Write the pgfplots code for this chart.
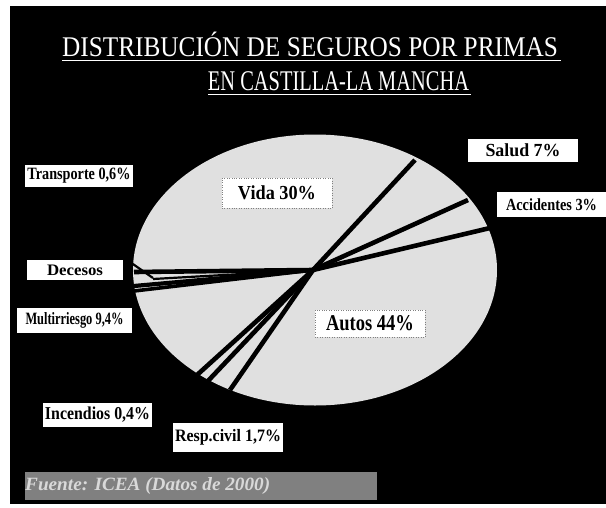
\documentclass[border=0pt]{standalone}
\usepackage{pgfplots}
\pgfplotsset{compat=1.18}
\usepackage{fontspec}
\setmainfont{Liberation Serif}
\usepackage{graphicx}
\definecolor{pie}{gray}{0.88}
\definecolor{fuente}{gray}{0.5}
% width, cap-height-based total height, text
\newcommand{\lab}[3]{\resizebox{#1pt}{#2pt}{\fontsize{20}{20}\selectfont\bfseries #3}}
\begin{document}
\begin{tikzpicture}
\begin{axis}[width=606pt,height=507pt,scale only axis,
  xmin=0,xmax=606,ymin=0,ymax=507,y dir=reverse,hide axis,clip=false]
\fill[white] (axis cs:0,0) rectangle (axis cs:606,507);
\fill[black] (axis cs:10,6) rectangle (axis cs:606,504);
% title
\node[white,anchor=base,inner sep=0pt] at (axis cs:310,56)
  {\scalebox{0.887}[1]{\fontsize{28.5}{28.5}\selectfont DISTRIBUCIÓN DE SEGUROS POR PRIMAS}};
\node[white,anchor=base,inner sep=0pt] at (axis cs:338.5,90)
  {\scalebox{0.717}[1]{\fontsize{28.5}{28.5}\selectfont EN CASTILLA-LA MANCHA}};
\draw[white,line width=1.3pt] (axis cs:62,60.5) -- (axis cs:561,60.5);
\draw[white,line width=1.3pt] (axis cs:208,94.5) -- (axis cs:471,94.5);
% pie body
\fill[pie] (axis cs:315,270) ellipse [x radius=182pt, y radius=135.5pt];
% slice boundaries (rays from centre)
\addplot[black,line width=4.6pt] coordinates {(313,270) (415,160)};
\addplot[black,line width=4.6pt] coordinates {(313,270) (468,200)};
\addplot[black,line width=4.6pt] coordinates {(313,270) (490,228)};
\addplot[black,line width=4.6pt] coordinates {(313,270) (197,375)};
\addplot[black,line width=4.6pt] coordinates {(313,270) (207,382)};
\addplot[black,line width=4.6pt] coordinates {(313,270) (230,390)};
\addplot[black,line width=4.6pt] coordinates {(313,270) (134,272)};
\addplot[black,line width=2.2pt] coordinates {(313,270) (153,279)};
\addplot[black,line width=4.2pt] coordinates {(313,270) (134,286)};
\addplot[black,line width=3.6pt] coordinates {(313,270) (134,291)};
\addplot[black,line width=2.2pt] coordinates {(130,262) (153,278)};
% labels
\node[fill=white,minimum width=110pt,minimum height=23pt,inner sep=0pt] at (axis cs:523,150.5)
  {\lab{75}{12.8}{Salud 7\%}};
\node[fill=white,minimum width=109pt,minimum height=25pt,inner sep=0pt] at (axis cs:551.5,204.5)
  {\lab{91}{11.8}{Accidentes 3\%}};
\node[fill=white,draw=gray,dotted,minimum width=110pt,minimum height=30pt,inner sep=0pt] at (axis cs:277,193)
  {\lab{78}{13.8}{Vida 30\%}};
\node[fill=white,minimum width=108pt,minimum height=22pt,inner sep=0pt] at (axis cs:79,176)
  {\lab{103}{11.5}{Transporte 0,6\%}};
\node[fill=white,minimum width=96pt,minimum height=20pt,inner sep=0pt] at (axis cs:75,270)
  {\lab{56}{10.5}{Decesos}};
\node[fill=white,minimum width=115pt,minimum height=25pt,inner sep=0pt] at (axis cs:74.5,320.5)
  {\lab{98}{12}{Multirriesgo 9,4\%}};
\node[fill=white,draw=gray,dotted,minimum width=110pt,minimum height=27pt,inner sep=0pt] at (axis cs:370,323.5)
  {\lab{88}{15}{Autos 44\%}};
\node[fill=white,minimum width=109pt,minimum height=24pt,inner sep=0pt] at (axis cs:97.5,415)
  {\lab{105}{12.6}{Incendios 0,4\%}};
\node[fill=white,minimum width=110pt,minimum height=29pt,inner sep=0pt] at (axis cs:228,437.5)
  {\lab{106}{12.1}{Resp.civil 1,7\%}};
% source
\fill[fuente] (axis cs:25,472) rectangle (axis cs:377,500);
\node[anchor=west,inner sep=0pt,text=white!85!black] at (axis cs:25,486)
  {\resizebox{245pt}{13pt}{\fontsize{20}{20}\selectfont\bfseries\itshape Fuente: ICEA (Datos de 2000)}};
\end{axis}
\end{tikzpicture}
\end{document}
